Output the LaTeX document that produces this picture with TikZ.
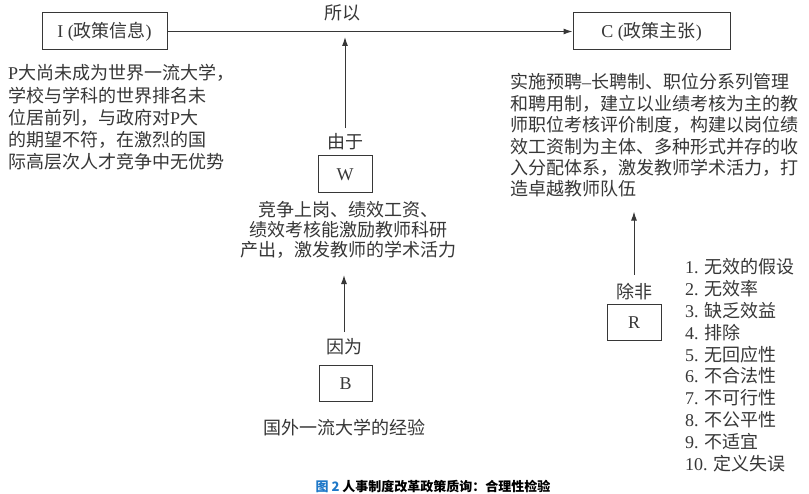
\documentclass[tikz,border=0pt]{standalone}
\usepackage{fontspec}
\setmainfont{Noto Sans CJK SC}
\newfontfamily\lat{Liberation Serif}
\usetikzlibrary{arrows.meta}
\definecolor{ink}{RGB}{55,55,55}
\definecolor{capblue}{RGB}{30,120,200}
\newcommand\fsz{\fontsize{18pt}{22pt}\selectfont}
\begin{document}
\begin{tikzpicture}[x=1pt,y=-1pt,
  box/.style={draw=ink, line width=1pt, inner sep=0pt, text=ink, font=\fsz},
  lbl/.style={inner sep=0pt, text=ink, font=\fsz},
  para/.style={inner sep=0pt, text=ink, font=\fsz},
  arr/.style={draw=ink, line width=1pt, -{Latex[length=9pt,width=6pt]}}]
\useasboundingbox[fill=white] (0,0) rectangle (809,494);
% top row
\node[box, minimum width=125pt, minimum height=37pt] (I) at (104.5,31.5) {{\lat I (}政策信息{\lat )}};
\node[box, minimum width=157pt, minimum height=37pt] (C) at (651.5,31.5) {{\lat C (}政策主张{\lat )}};
\node[lbl] (so) at (342,13) {所以};
\draw[arr] (I.east) -- (C.west);
% left text
\node[para, anchor=north west, align=left, font=\fontsize{18pt}{22.2pt}\selectfont] (itxt) at (8,64.5)
 {{\lat P}大尚未成为世界一流大学，\\学校与学科的世界排名未\\位居前列，与政府对{\lat P}大\\的期望不符，在激烈的国\\际高层次人才竞争中无优势};
% right text
\node[para, anchor=north west, align=left, font=\fontsize{18pt}{21.4pt}\selectfont] (ctxt) at (510,73.5)
 {实施预聘{\lat –}长聘制、职位分系列管理\\和聘用制，建立以业绩考核为主的教\\师职位考核评价制度，构建以岗位绩\\效工资制为主体、多种形式并存的收\\入分配体系，激发教师学术活力，打\\造卓越教师队伍};
% W
\node[lbl] (yy) at (345,142) {由于};
\node[box, minimum width=54pt, minimum height=37pt] (W) at (345,174.5) {\lat W};
\node[para, anchor=north, align=center, font=\fontsize{18pt}{20pt}\selectfont] (wtxt) at (348,201.5)
 {竞争上岗、绩效工资、\\绩效考核能激励教师科研\\产出，激发教师的学术活力};
\draw[arr, shorten <=5.5pt, shorten >=5.5pt] (yy.north) -- (yy.north |- I.east);
% B
\node[lbl] (yw) at (344,347) {因为};
\node[box, minimum width=53pt, minimum height=36pt] (B) at (345.5,384) {\lat B};
\node[lbl] (btxt) at (344,428) {国外一流大学的经验};
\draw[arr, shorten <=6.5pt, shorten >=16pt] (yw.north) -- (yw.north |- wtxt.south);
% R
\node[lbl] (cf) at (634,292) {除非};
\node[box, minimum width=54pt, minimum height=36pt] (R) at (634,323) {\lat R};
\draw[arr, shorten <=8.5pt, shorten >=14pt] (cf.north) -- (cf.north |- ctxt.south);
\node[para, anchor=north west, align=left, font=\fontsize{18pt}{21.8pt}\selectfont] (rlist) at (685,258.5)
 {{\lat 1. }无效的假设\\{\lat 2. }无效率\\{\lat 3. }缺乏效益\\{\lat 4. }排除\\{\lat 5. }无回应性\\{\lat 6. }不合法性\\{\lat 7. }不可行性\\{\lat 8. }不公平性\\{\lat 9. }不适宜\\{\lat 10. }定义失误};
% caption
\node[inner sep=0pt, font=\bfseries\fontsize{13pt}{15pt}\selectfont] (cap) at (433,486)
 {\textcolor{capblue}{图 2} 人事制度改革政策质询：合理性检验};
\end{tikzpicture}
\end{document}
